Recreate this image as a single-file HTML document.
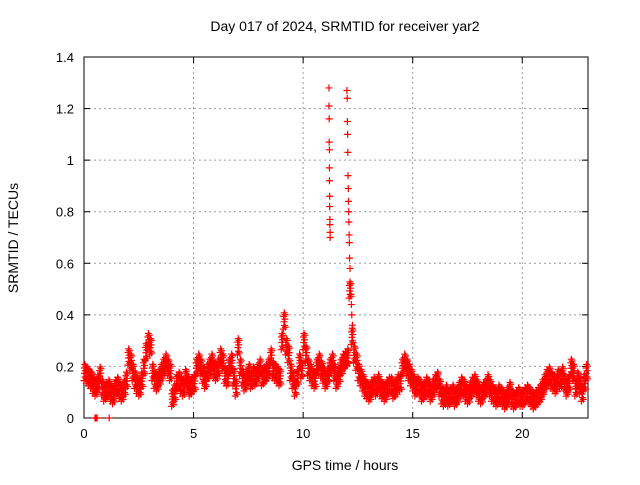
<!DOCTYPE html>
<html><head><meta charset="utf-8"><style>
body{margin:0;background:#fff}
svg{font-family:"Liberation Sans",sans-serif;font-size:13px}
</style></head><body>
<svg id="chart" width="640" height="480" xmlns="http://www.w3.org/2000/svg">
<text x="345" y="31" text-anchor="middle" style="font-size:14px">Day 017 of 2024, SRMTID for receiver yar2</text>
<text x="345" y="470" text-anchor="middle" style="font-size:14px">GPS time / hours</text>
<text transform="translate(18,238) rotate(-90)" text-anchor="middle" style="font-size:14px">SRMTID / TECUs</text>
<g id="grid"></g><g id="axes"></g><g id="marks"></g>
</svg>
<script>
const xTicks=[0,5,10,15,20];
const yTicks=[0,0.2,0.4,0.6,0.8,1,1.2,1.4];
const yTickLabels=["0","0.2","0.4","0.6","0.8","1","1.2","1.4"];
const binStart=0, binStep=0.1;
const values=[
.18,.17,.16,.15,.13,.12,.14,.17,.12,.10,
.11,.12,.10,.09,.12,.13,.11,.10,.12,.15,
.24,.22,.18,.15,.13,.12,.15,.20,.26,.30,
.28,.18,.15,.14,.16,.18,.20,.22,.20,.18,
.08,.10,.14,.15,.13,.12,.16,.14,.12,.13,
.14,.20,.22,.20,.17,.15,.18,.20,.22,.19,
.18,.20,.24,.22,.17,.16,.20,.22,.16,.12,
.28,.20,.16,.14,.16,.18,.15,.17,.16,.18,
.20,.16,.17,.18,.20,.24,.19,.18,.17,.16,
.30,.38,.28,.25,.18,.15,.12,.16,.22,.19,
.30,.25,.20,.18,.16,.15,.20,.22,.19,.17,
.15,.17,.20,.22,.18,.15,.17,.20,.22,.23,
.24,.50,.32,.25,.22,.18,.16,.14,.12,.11,
.10,.12,.13,.12,.14,.12,.11,.10,.12,.13,
.13,.11,.12,.14,.14,.20,.22,.20,.18,.16,
.14,.12,.13,.12,.10,.11,.13,.12,.10,.12,
.14,.15,.12,.09,.08,.10,.08,.09,.10,.08,
.09,.11,.13,.12,.10,.09,.11,.13,.14,.12,
.10,.09,.11,.12,.14,.12,.10,.09,.08,.10,
.09,.08,.07,.09,.11,.08,.07,.08,.09,.08,
.08,.09,.10,.09,.08,.07,.08,.09,.10,.12,
.14,.16,.17,.15,.14,.13,.16,.15,.17,.14,
.12,.14,.20,.18,.12,.15,.13,.10,.14,.18];
const spreads=[0.035];
const jitter=[-1,0.4,-0.2,0.8,-0.6,0.1,0.6,-0.8];
const spike1Times=[11.18,11.18,11.19,11.19,11.2,11.2,11.2,11.21,11.21,11.22,11.22,11.23,11.23];
const spike1Values=[1.28,1.21,1.16,1.07,1.04,0.97,0.92,0.86,0.82,0.77,0.75,0.72,0.70];
const spike2Times=[12.0,12.01,12.02,12.03,12.04,12.05,12.06,12.07,12.08,12.09,12.1,12.11,12.12,12.14,12.16,12.18,12.2,12.22,12.25];
const spike2Values=[1.27,1.24,1.15,1.10,1.03,0.94,0.89,0.84,0.80,0.76,0.71,0.68,0.62,0.58,0.52,0.48,0.44,0.40,0.36];
const zeroTimes=[0.5,0.55,0.6,1.15];
const zeroValues=[0,0,0,0];

const L=84,R=588,T=57,B=418,XMAX=23,YMAX=1.4;
const X=t=>L+(R-L)*t/XMAX, Y=v=>B-(B-T)*v/YMAX;
const NS="http://www.w3.org/2000/svg";
function mk(tag,attrs,parent){const e=document.createElementNS(NS,tag);for(const k in attrs)e.setAttribute(k,attrs[k]);parent.appendChild(e);return e;}
const grid=document.getElementById('grid'),axes=document.getElementById('axes'),marks=document.getElementById('marks');
xTicks.forEach(t=>{
  if(t>0){const g=mk('line',{x1:X(t),x2:X(t),y1:T,y2:B,stroke:'#999','stroke-dasharray':'2,3'},grid);
  
  }
  mk('line',{x1:X(t),x2:X(t),y1:B,y2:B-6,stroke:'#000'},axes);
  mk('line',{x1:X(t),x2:X(t),y1:T,y2:T+6,stroke:'#000'},axes);
  const l=mk('text',{x:X(t),y:B+20,'text-anchor':'middle'},axes);l.textContent=t;
  
  
});
yTicks.forEach((v,i)=>{
  if(v>0&&v<YMAX){const g=mk('line',{x1:L,x2:R,y1:Y(v),y2:Y(v),stroke:'#999','stroke-dasharray':'2,3'},grid);
  
  }
  mk('line',{x1:L,x2:L+6,y1:Y(v),y2:Y(v),stroke:'#000'},axes);
  mk('line',{x1:R,x2:R-6,y1:Y(v),y2:Y(v),stroke:'#000'},axes);
  const l=mk('text',{x:L-10,y:Y(v)+5,'text-anchor':'end'},axes);l.textContent=yTickLabels[i];
  
  
});
const frame=mk('rect',{x:L,y:T,width:R-L,height:B-T,fill:'none',stroke:'#000'},axes);


function plus(t,v){
  const x=X(t),y=Y(v);
  const p=mk('path',{d:`M${x-3.5},${y}h7M${x},${y-3.5}v7`,stroke:'#f00','stroke-width':1.2,fill:'none'},marks);
  
  
}
values.forEach((v,i)=>{
  jitter.forEach((j,k)=>{plus(binStart+i*binStep+k*binStep/jitter.length, Math.max(0.02,v+spreads[0]*j));});
});
spike1Times.forEach((t,i)=>plus(t,spike1Values[i]));
spike2Times.forEach((t,i)=>plus(t,spike2Values[i]));
zeroTimes.forEach((t,i)=>plus(t,zeroValues[i]));
</script>
</body></html>
